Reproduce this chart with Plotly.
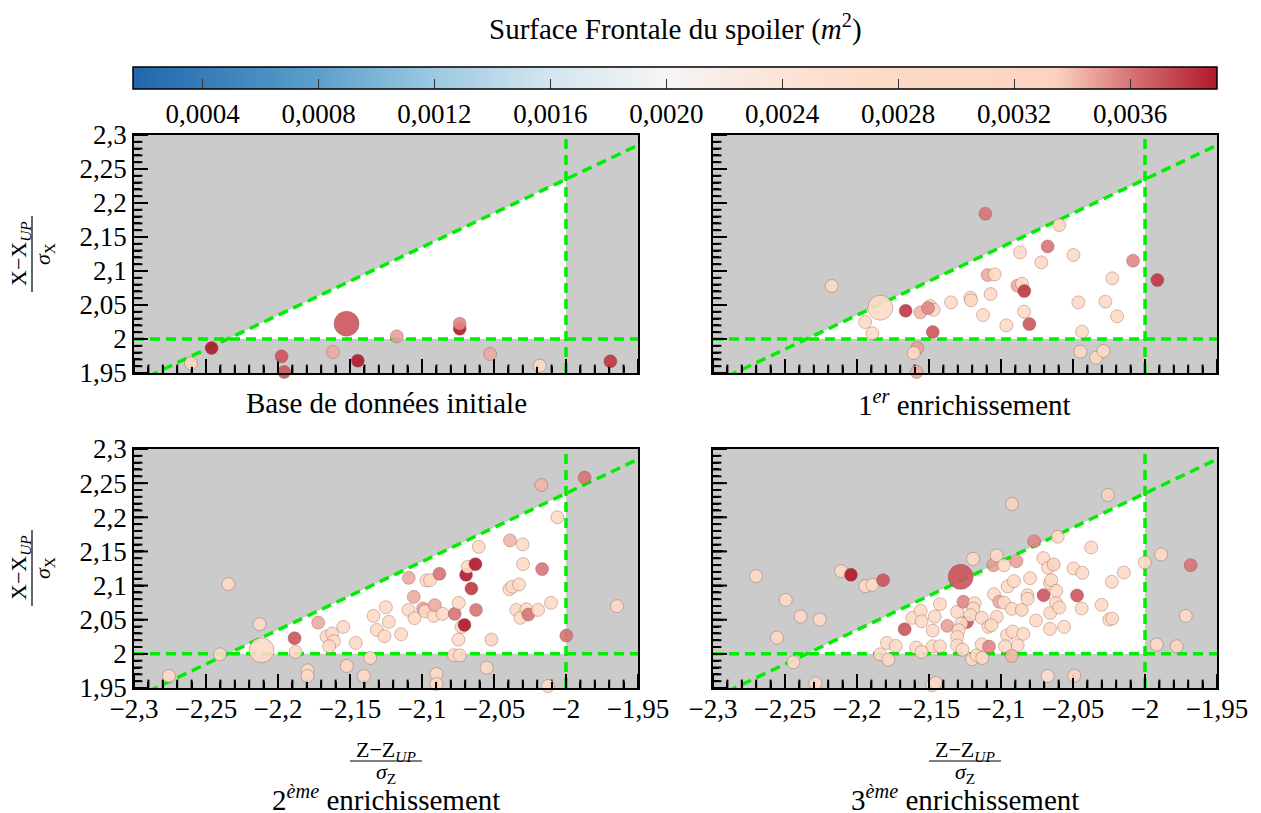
import plotly.graph_objects as go

# ---------------- DATA ----------------
# Panel 1 : Base de données initiale
base_z = [-2.2604, -2.2461, -2.1975, -2.1957, -2.1619, -2.1524, -2.1446, -2.1175, -2.0738, -2.0738, -2.0527, -2.0183, -1.9692]
base_x = [1.9642, 1.9868, 1.9745, 1.9515, 1.9809, 2.0225, 1.9681, 2.0039, 2.0152, 2.0225, 1.9780, 1.9608, 1.9672]
base_s = [0.0031, 0.0039, 0.0037, 0.0037, 0.00345, 0.0037, 0.0039, 0.00348, 0.0039, 0.00355, 0.00345, 0.0028, 0.0038]
base_big = 5

# Panel 2 : 1er enrichissement
e1_z = [-2.2176, -2.1838, -2.1944, -2.1893, -2.1662, -2.1560, -2.1491, -2.1468, -2.1507, -2.1474,
        -2.1581, -2.1606, -2.1586, -2.1347, -2.1213, -2.1208, -2.1125, -2.1072, -2.1109, -2.1093,
        -2.1044, -2.0963, -2.0868, -2.0886, -2.0854, -2.0838, -2.0840, -2.0803, -2.0720, -2.0676,
        -2.0595, -2.0497, -2.0463, -2.0437, -2.0449, -2.0340, -2.0289, -2.0275, -2.0227, -2.0194,
        -2.0083, -1.9914]
e1_x = [2.0779, 2.0460, 2.0250, 2.0083, 2.0416, 2.0392, 2.0485, 2.0431, 2.0455, 2.0103,
        1.9868, 1.9794, 1.9515, 2.0539, 2.0607, 2.0568, 2.0353, 2.0661, 2.1842, 2.0941,
        2.0950, 2.0200, 2.1274, 2.0784, 2.0813, 2.0705, 2.0402, 2.0220, 2.1127, 2.1362,
        2.1676, 2.1235, 2.0539, 2.0108, 1.9814, 1.9725, 1.9823, 2.0549, 2.0892, 2.0333,
        2.1151, 2.0867]
e1_s = [0.0028, 0.0027, 0.0028, 0.0028, 0.0038, 0.00342, 0.0028, 0.0028, 0.00355, 0.0037,
        0.00348, 0.0028, 0.00345, 0.0028, 0.0028, 0.0028, 0.0028, 0.0028, 0.0036, 0.00345,
        0.0028, 0.0028, 0.0028, 0.00345, 0.0028, 0.0038, 0.0028, 0.0037, 0.0028, 0.0036,
        0.0033, 0.0028, 0.0028, 0.0028, 0.0028, 0.0028, 0.0028, 0.0028, 0.0028, 0.0028,
        0.00355, 0.0038]
e1_big = 1

# Panel 3 : 2eme enrichissement
e2_z = [-2.2757, -2.2403, -2.2345, -2.2128, -2.2114, -2.1885, -2.1878, -2.1795, -2.1795, -2.1721,
        -2.1663, -2.1624, -2.1612, -2.1645, -2.1547, -2.1522, -2.1460, -2.1404, -2.1360, -2.1337,
        -2.1314, -2.1261, -2.1251, -2.1230, -2.1145, -2.1092, -2.1094, -2.1057, -2.1052, -2.0992,
        -2.0978, -2.0969, -2.0944, -2.0918, -2.0911, -2.0879, -2.0858, -2.0900, -2.0900, -2.0777,
        -2.0738, -2.0773, -2.0747, -2.0745, -2.0726, -2.0705, -2.0694, -2.0682, -2.0629, -2.0657,
        -2.0625, -2.0606, -2.0551, -2.0518, -2.0389, -2.0393, -2.0373, -2.0326, -2.0345, -2.0317,
        -2.0301, -2.0298, -2.0275, -2.0261, -2.0194, -2.0171, -2.0166, -2.0104, -2.0125, -2.0060,
        -1.9998, -1.9871, -1.9646]
e2_x = [1.9676, 1.9994, 2.1021, 2.0434, 2.0053, 2.0229, 2.0028, 1.9759, 1.9676, 2.0458,
        2.0253, 2.0297, 2.0185, 2.0111, 2.0395, 1.9823, 2.0160, 1.9676, 1.9940, 2.0556,
        2.0351, 2.0258, 2.0683, 2.0468, 2.0287, 2.1114, 2.0644, 2.0835, 2.0522, 2.0664,
        2.0625, 2.1075, 2.1079, 2.0556, 2.0713, 2.1172, 2.0586, 1.9705, 1.9559, 1.9979,
        1.9979, 2.0586, 2.0209, 2.0747, 2.0395, 2.0424, 2.1158, 2.1275, 2.1314, 2.0957,
        2.0644, 2.1568, 1.9798, 2.0209, 2.1661, 2.0947, 2.0982, 2.1016, 2.0644, 2.0527,
        2.1603, 2.1314, 2.0654, 2.0576, 2.0644, 2.2473, 2.1241, 2.0747, 1.9529, 2.2000,
        2.0268, 2.2581, 2.0698]
e2_s = [0.0028, 0.0028, 0.0028, 0.0028, 0.0028, 0.0037, 0.0028, 0.0028, 0.0028, 0.00345,
        0.0028, 0.0028, 0.0028, 0.0028, 0.0028, 0.0028, 0.0028, 0.0028, 0.0028, 0.0028,
        0.0028, 0.0028, 0.0028, 0.0028, 0.0028, 0.00345, 0.0028, 0.00345, 0.0028, 0.00348,
        0.0028, 0.0028, 0.0028, 0.0028, 0.00345, 0.0036, 0.0028, 0.0028, 0.0028, 0.0028,
        0.0028, 0.0036, 0.0028, 0.0028, 0.0028, 0.0039, 0.0039, 0.0028, 0.0039, 0.0038,
        0.0036, 0.0028, 0.0028, 0.0033, 0.00342, 0.0028, 0.0028, 0.0028, 0.0028, 0.0028,
        0.0028, 0.0028, 0.0028, 0.0036, 0.0028, 0.00342, 0.0036, 0.0028, 0.0028, 0.0028,
        0.0036, 0.0036, 0.0028]
e2_big = 4

# Panel 4 : 3eme enrichissement
e3_z = [-2.2701, -2.2495, -2.2556, -2.2391, -2.2259, -2.2442, -2.2289, -2.2111, -2.2042, -2.1942,
        -2.1893, -2.1819, -2.1840, -2.1782, -2.1792, -2.1731, -2.1669, -2.1616, -2.1558, -2.1551,
        -2.1590, -2.1551, -2.1474, -2.1460, -2.1424, -2.1474, -2.1424, -2.1477, -2.1454, -2.1373,
        -2.1305, -2.1280, -2.1261, -2.1236, -2.1194, -2.1183, -2.1192, -2.1213, -2.1275, -2.1294,
        -2.1305, -2.1305, -2.1268, -2.1201, -2.1169, -2.1130, -2.1134, -2.1134, -2.1088, -2.1083,
        -2.1053, -2.1030, -2.1049, -2.1012, -2.1030, -2.1067, -2.0979, -2.0979, -2.0954, -2.0910,
        -2.0924, -2.0893, -2.0924, -2.0856, -2.0958, -2.0919, -2.0845, -2.0884, -2.0972, -2.0926,
        -2.0817, -2.0815, -2.0798, -2.0770, -2.0757, -2.0706, -2.0673, -2.0634, -2.0704, -2.0660,
        -2.0651, -2.0658, -2.0660, -2.0618, -2.0616, -2.0595, -2.0562, -2.0606, -2.0676, -2.0497,
        -2.0472, -2.0435, -2.0440, -2.0491, -2.0374, -2.0302, -2.0249, -2.0228, -2.0230, -2.0258,
        -2.0147, -2.0002, -1.9888, -1.9919, -1.9780, -1.9717, -1.9683]
e3_x = [2.1138, 2.0791, 2.0238, 2.0546, 2.0502, 1.9877, 1.9568, 2.1212, 2.1158, 2.0991,
        2.1011, 2.1079, 1.9994, 1.9916, 2.0160, 2.0116, 2.0361, 2.0527, 2.0630, 2.0478,
        2.0092, 2.0028, 2.0341, 2.0546, 2.0727, 2.0111, 2.0111, 1.9539, 1.9573, 2.0410,
        2.0615, 2.1128, 2.0762, 2.0468, 2.1392, 2.0742, 2.0664, 2.0566, 2.0444, 2.0346,
        2.0248, 2.0126, 2.0062, 1.9921, 1.9979, 1.9940, 2.0141, 2.0527, 2.0395, 2.0106,
        2.1299, 2.1441, 2.0874, 2.0762, 2.0542, 2.0419, 2.1299, 2.0752, 2.0987, 2.1065,
        2.2194, 2.1358, 2.0659, 2.0644, 2.0273, 2.0326, 2.0292, 2.0126, 2.0111, 1.9970,
        2.0859, 2.0806, 2.1109, 2.1647, 2.0488, 2.1402, 2.1260, 2.1309, 2.0859, 2.1035,
        2.1079, 2.0600, 2.0366, 2.0747, 2.0923, 2.0679, 2.0395, 2.1715, 1.9676, 2.1251,
        2.0855, 2.1187, 2.0664, 1.9681, 2.1559, 2.0718, 2.0502, 2.0517, 2.1055, 2.2326,
        2.1192, 2.1339, 2.1456, 2.0136, 2.0111, 2.0556, 2.1299]
e3_s = [0.0028, 0.0028, 0.0028, 0.0028, 0.0028, 0.0028, 0.0028, 0.0028, 0.0039, 0.0028,
        0.0028, 0.0037, 0.0028, 0.0028, 0.0028, 0.0028, 0.0037, 0.0028, 0.0028, 0.0028,
        0.0028, 0.0028, 0.0028, 0.0028, 0.0028, 0.0028, 0.0028, 0.0028, 0.0028, 0.00348,
        0.0028, 0.0037, 0.00355, 0.0037, 0.0028, 0.0028, 0.0028, 0.0028, 0.0028, 0.0028,
        0.0028, 0.0028, 0.0028, 0.0028, 0.0028, 0.0028, 0.0028, 0.0028, 0.0028, 0.00355,
        0.00348, 0.0028, 0.0028, 0.00345, 0.0028, 0.0028, 0.0028, 0.0028, 0.0028, 0.0028,
        0.0033, 0.00348, 0.0028, 0.0032, 0.0028, 0.0028, 0.0028, 0.0028, 0.0028, 0.00342,
        0.0028, 0.0028, 0.0028, 0.00355, 0.0028, 0.0028, 0.0028, 0.0033, 0.0037, 0.0028,
        0.0028, 0.0028, 0.0028, 0.0028, 0.0028, 0.0028, 0.0028, 0.0028, 0.0025, 0.0028,
        0.0037, 0.0028, 0.0028, 0.0031, 0.0028, 0.0028, 0.0028, 0.0028, 0.0028, 0.0033,
        0.0028, 0.0028, 0.0028, 0.0028, 0.0031, 0.0028, 0.0036]
e3_big = 31

panel_titles = ["Base de données initiale", "1<sup><i>er</i></sup> enrichissement",
                "2<sup><i>ème</i></sup> enrichissement", "3<sup><i>ème</i></sup> enrichissement"]

x_tickvals = [-2.3, -2.25, -2.2, -2.15, -2.1, -2.05, -2.0, -1.95]
x_ticktext = ["−2,3", "−2,25", "−2,2", "−2,15", "−2,1", "−2,05", "−2", "−1,95"]
y_tickvals = [1.95, 2.0, 2.05, 2.1, 2.15, 2.2, 2.25, 2.3]
y_ticktext = ["1,95", "2", "2,05", "2,1", "2,15", "2,2", "2,25", "2,3"]
cb_tickvals = [0.0004, 0.0008, 0.0012, 0.0016, 0.0020, 0.0024, 0.0028, 0.0032, 0.0036]
cb_ticktext = ["0,0004", "0,0008", "0,0012", "0,0016", "0,0020", "0,0024", "0,0028", "0,0032", "0,0036"]

# constraint limits
Z_LIMIT = -2.0
X_LIMIT = 2.0
DIAG_OFFSET = 4.235   # diagonal: x = z + offset
X_RANGE = [-2.3, -1.95]
Y_RANGE = [1.95, 2.3]
MINOR_STEP = 0.01
C_MIN, C_MAX = 0.00016, 0.0039

# ---------------- FIGURE ----------------
W, H = 1261, 813
FONT = "Liberation Serif"
FS = 27
FT = 29
GREEN = "#00ee00"

def px_x(p):
    return p / W

def px_y(p):
    return 1 - p / H

def minor_vals(rng):
    n = int(round((rng[1] - rng[0]) / MINOR_STEP))
    return [round(rng[0] + k * MINOR_STEP, 4) for k in range(n + 1)]

domains = {
    1: ([px_x(134), px_x(638)], [px_y(373), px_y(135)]),
    2: ([px_x(713), px_x(1217)], [px_y(373), px_y(135)]),
    3: ([px_x(134), px_x(638)], [px_y(688), px_y(449)]),
    4: ([px_x(713), px_x(1217)], [px_y(688), px_y(449)]),
}

fig = go.Figure()

panels = [
    (base_z, base_x, base_s, base_big),
    (e1_z, e1_x, e1_s, e1_big),
    (e2_z, e2_x, e2_s, e2_big),
    (e3_z, e3_x, e3_s, e3_big),
]

tri_z = [X_LIMIT - DIAG_OFFSET, Z_LIMIT, Z_LIMIT, X_LIMIT - DIAG_OFFSET]
tri_x = [X_LIMIT, X_LIMIT, Z_LIMIT + DIAG_OFFSET, X_LIMIT]

line_style = dict(color=GREEN, width=3.5, dash="10px,6px")
x_minor = minor_vals(X_RANGE)
y_minor = minor_vals(Y_RANGE)

def tick_trace(xs, ys, symbol, length, xa, ya):
    # inward tick marks: half of each symbol is clipped away by the plot area
    return go.Scatter(x=xs, y=ys, mode="markers", hoverinfo="skip", showlegend=False,
                      cliponaxis=True, xaxis=xa, yaxis=ya,
                      marker=dict(symbol=symbol, size=2 * length, color="black",
                                  line=dict(width=2, color="black")))

for i, (zs, xs, ss, big) in enumerate(panels, start=1):
    xa = "x" if i == 1 else f"x{i}"
    ya = "y" if i == 1 else f"y{i}"
    fig.add_trace(go.Scatter(x=tri_z, y=tri_x, mode="lines", fill="toself",
                             fillcolor="white", line=dict(width=0), hoverinfo="skip",
                             showlegend=False, xaxis=xa, yaxis=ya))
    # tick combs along the left and bottom edges
    fig.add_trace(tick_trace([X_RANGE[0]] * len(y_minor), y_minor, "line-ew", 6, xa, ya))
    fig.add_trace(tick_trace([X_RANGE[0]] * len(y_tickvals), y_tickvals, "line-ew", 10, xa, ya))
    fig.add_trace(tick_trace(x_minor, [Y_RANGE[0]] * len(x_minor), "line-ns", 6, xa, ya))
    fig.add_trace(tick_trace(x_tickvals, [Y_RANGE[0]] * len(x_tickvals), "line-ns", 10, xa, ya))
    fig.add_trace(go.Scatter(x=X_RANGE, y=[X_LIMIT, X_LIMIT], mode="lines", line=line_style,
                             hoverinfo="skip", showlegend=False, xaxis=xa, yaxis=ya))
    fig.add_trace(go.Scatter(x=[Z_LIMIT, Z_LIMIT], y=Y_RANGE, mode="lines", line=line_style,
                             hoverinfo="skip", showlegend=False, xaxis=xa, yaxis=ya))
    fig.add_trace(go.Scatter(x=X_RANGE, y=[X_RANGE[0] + DIAG_OFFSET, X_RANGE[1] + DIAG_OFFSET],
                             mode="lines", line=line_style, hoverinfo="skip", showlegend=False,
                             xaxis=xa, yaxis=ya))
    sizes = [13] * len(zs)
    sizes[big] = 25
    fig.add_trace(go.Scatter(x=zs, y=xs, mode="markers", showlegend=False,
                             marker=dict(color=ss, coloraxis="coloraxis", size=sizes, opacity=0.9,
                                         line=dict(width=1, color="rgba(120,60,50,0.35)")),
                             cliponaxis=False, xaxis=xa, yaxis=ya))

def axis_common():
    return dict(showline=True, linecolor="black", linewidth=1.5, mirror=True,
                ticks="inside", ticklen=10, tickwidth=2, tickcolor="black",
                showgrid=False, zeroline=False, layer="above traces",
                tickfont=dict(family=FONT, size=FS, color="black"))

layout = dict(
    width=W, height=H, margin=dict(l=0, r=0, t=0, b=0, pad=0, autoexpand=False),
    paper_bgcolor="white", plot_bgcolor="#cbcbcb",
    font=dict(family=FONT, size=FS, color="black"),
    showlegend=False,
)

for i in range(1, 5):
    xd, yd = domains[i]
    xk = "xaxis" if i == 1 else f"xaxis{i}"
    yk = "yaxis" if i == 1 else f"yaxis{i}"
    ya_name = "y" if i == 1 else f"y{i}"
    xa_name = "x" if i == 1 else f"x{i}"
    xax = axis_common()
    xax.update(domain=xd, range=X_RANGE, anchor=ya_name, tickmode="array",
               tickvals=x_tickvals, ticktext=x_ticktext, showticklabels=(i >= 3),
               ticklabelstandoff=-4,
               minor=dict(tickmode="array", tickvals=x_minor, ticks="inside",
                          ticklen=6, tickwidth=2, tickcolor="black", showgrid=False))
    yax = axis_common()
    yax.update(domain=yd, range=Y_RANGE, anchor=xa_name, tickmode="array",
               tickvals=y_tickvals, ticktext=y_ticktext, showticklabels=(i in (1, 3)),
               minor=dict(tickmode="array", tickvals=y_minor, ticks="inside",
                          ticklen=6, tickwidth=2, tickcolor="black", showgrid=False))
    layout[xk] = xax
    layout[yk] = yax

layout["coloraxis"] = dict(
    cmin=C_MIN, cmax=C_MAX,
    colorscale=[[0.0, "#2166ac"], [0.17, "#5b9fcb"], [0.28, "#9ecae1"], [0.385, "#d3e5ef"],
                [0.49, "#f5f5f5"], [0.6, "#fbe3d6"], [0.68, "#fddbc7"], [0.85, "#fbd4c0"],
                [0.92, "#d87476"], [1.0, "#b2182b"]],
    colorbar=dict(orientation="h", x=(133 + 1217) / 2 / W, xanchor="center",
                  y=px_y(67), yanchor="top", len=(1217 - 133) / W, lenmode="fraction",
                  thickness=22, thicknessmode="pixels", outlinewidth=1.5, outlinecolor="black",
                  ticks="inside", ticklen=10, tickwidth=1, tickcolor="#333",
                  tickmode="array", tickvals=cb_tickvals, ticktext=cb_ticktext,
                  tickfont=dict(family=FONT, size=FS, color="black"), xpad=0, ypad=0),
)

fig.update_layout(**layout)

def note(text, x, y, size=FS, angle=0):
    return dict(text=text, x=x / W, y=px_y(y), xref="paper", yref="paper",
                xanchor="center", yanchor="middle", showarrow=False,
                textangle=angle, font=dict(size=size))

ann = [note("Surface Frontale du spoiler (<i>m</i><sup>2</sup>)", 675, 28, FT)]
centers_x = [386, 965]
for i, t in enumerate(panel_titles):
    ann.append(note(t, centers_x[i % 2], 403 if i < 2 else 798, FT))

shapes = []
FR = 22
for cx in centers_x:
    ann.append(note("Z−Z<sub><i>UP</i></sub>", cx, 751, FR))
    ann.append(note("<i>σ</i><sub>Z</sub>", cx, 773, FR))
    shapes.append(dict(type="line", xref="paper", yref="paper", x0=(cx - 36) / W, x1=(cx + 36) / W,
                       y0=px_y(761), y1=px_y(761), line=dict(color="black", width=1.2)))
for cy in [254, 568]:
    ann.append(note("X−X<sub><i>UP</i></sub>", 20, cy, FR, -90))
    ann.append(note("<i>σ</i><sub>X</sub>", 44, cy, FR, -90))
    shapes.append(dict(type="line", xref="paper", yref="paper", x0=32 / W, x1=32 / W,
                       y0=px_y(cy - 38), y1=px_y(cy + 38), line=dict(color="black", width=1.2)))

fig.update_layout(annotations=ann, shapes=shapes)
fig.write_html("out.html", config={"displayModeBar": False},
               post_script="document.body.style.margin='0px';")
